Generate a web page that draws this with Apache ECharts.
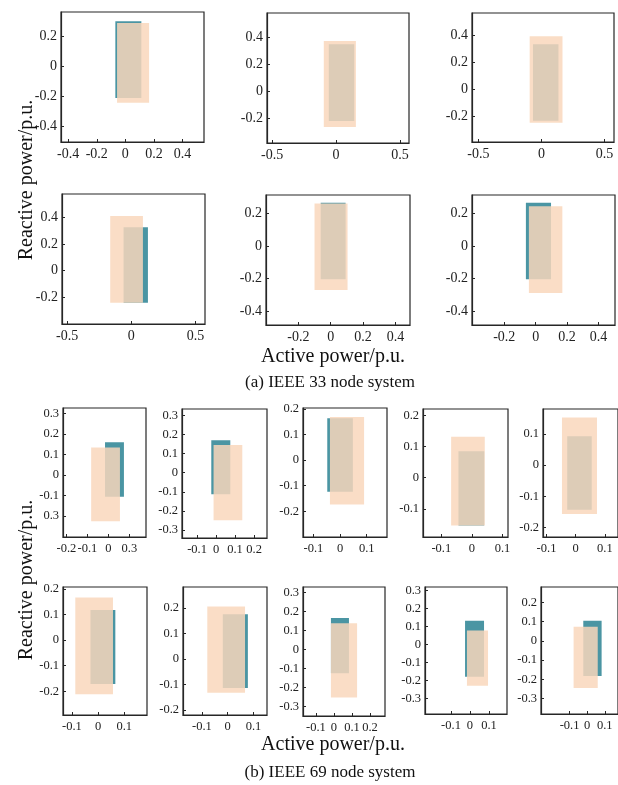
<!DOCTYPE html>
<html>
<head>
<meta charset="utf-8">
<script src="https://cdn.jsdelivr.net/npm/echarts@6/dist/echarts.min.js"></script>
<style>
  html, body { margin: 0; padding: 0; background: #fff; }
  #main { width: 618px; height: 785px; }
</style>
</head>
<body>
<div id="main"></div>
<script>
// each rect: [pMin, pMax, qMin, qMax] in p.u.; (a) 6 panels then (b) 10 panels
const tealRects = [
  [-0.07, 0.112, -0.213, 0.298],
  [-0.057, 0.142, -0.221, 0.345],
  [-0.067, 0.135, -0.231, 0.333],
  [-0.06, 0.13, -0.239, 0.324],
  [-0.062, 0.092, -0.205, 0.266],
  [-0.062, 0.098, -0.205, 0.266],
  [-0.016, 0.074, -0.106, 0.16],
  [-0.025, 0.075, -0.113, 0.17],
  [-0.048, 0.048, -0.124, 0.163],
  [-0.044, 0.04, -0.153, 0.085],
  [-0.029, 0.055, -0.143, 0.093],
  [-0.029, 0.066, -0.171, 0.117],
  [-0.019, 0.078, -0.113, 0.176],
  [-0.017, 0.083, -0.125, 0.166],
  [-0.026, 0.074, -0.178, 0.133],
  [-0.022, 0.082, -0.182, 0.104]
]
const peachRects = [
  [-0.058, 0.166, -0.245, 0.287],
  [-0.096, 0.155, -0.266, 0.369],
  [-0.093, 0.167, -0.245, 0.392],
  [-0.164, 0.091, -0.239, 0.408],
  [-0.1, 0.104, -0.272, 0.26],
  [-0.043, 0.17, -0.29, 0.244],
  [-0.082, 0.055, -0.225, 0.134],
  [-0.013, 0.138, -0.249, 0.144],
  [-0.038, 0.09, -0.173, 0.168],
  [-0.068, 0.042, -0.153, 0.131],
  [-0.047, 0.073, -0.156, 0.153],
  [-0.087, 0.057, -0.211, 0.166],
  [-0.079, 0.067, -0.132, 0.207],
  [-0.017, 0.128, -0.252, 0.139],
  [-0.016, 0.095, -0.228, 0.078],
  [-0.077, 0.06, -0.245, 0.073]
]
const xRanges = [
  [-0.45, 0.55], [-0.54, 0.57], [-0.55, 0.575], [-0.54, 0.575], [-0.4, 0.49], [-0.405, 0.505],
  [-0.216, 0.179], [-0.179, 0.268], [-0.139, 0.176], [-0.16, 0.118], [-0.112, 0.145],
  [-0.134, 0.187], [-0.173, 0.152], [-0.172, 0.283], [-0.237, 0.195], [-0.262, 0.175]
]
const yRanges = [
  [-0.507, 0.36], [-0.384, 0.576], [-0.387, 0.563], [-0.398, 0.572], [-0.487, 0.313], [-0.487, 0.313],
  [-0.302, 0.327], [-0.342, 0.333], [-0.3, 0.203], [-0.19, 0.22], [-0.23, 0.18],
  [-0.292, 0.207], [-0.219, 0.283], [-0.35, 0.33], [-0.385, 0.32], [-0.38, 0.28]
]
const xTickVals = [
  [-0.4, -0.2, 0, 0.2, 0.4], [-0.5, 0, 0.5], [-0.5, 0, 0.5], [-0.5, 0, 0.5], [-0.2, 0, 0.2, 0.4], [-0.2, 0, 0.2, 0.4],
  [-0.2, -0.1, 0, 0.1], [-0.1, 0, 0.1, 0.2], [-0.1, 0, 0.1], [-0.1, 0, 0.1], [-0.1, 0, 0.1],
  [-0.1, 0, 0.1], [-0.1, 0, 0.1], [-0.1, 0, 0.1, 0.2], [-0.2, -0.1, 0, 0.1], [-0.2, -0.1, 0, 0.1]
]
const xTickText = [
  ['-0.4', '-0.2', '0', '0.2', '0.4'], ['-0.5', '0', '0.5'], ['-0.5', '0', '0.5'], ['-0.5', '0', '0.5'],
  ['-0.2', '0', '0.2', '0.4'], ['-0.2', '0', '0.2', '0.4'],
  ['-0.2', '-0.1', '0', '0.3'], ['-0.1', '0', '0.1', '0.2'], ['-0.1', '0', '0.1'], ['-0.1', '0', '0.1'], ['-0.1', '0', '0.1'],
  ['-0.1', '0', '0.1'], ['-0.1', '0', '0.1'], ['-0.1', '0', '0.1', '0.2'], ['-0.2', '-0.1', '0', '0.1'], ['-0.2', '-0.1', '0', '0.1']
]
const yTickVals = [
  [-0.4, -0.2, 0, 0.2], [-0.2, 0, 0.2, 0.4], [-0.2, 0, 0.2, 0.4], [-0.2, 0, 0.2, 0.4], [-0.4, -0.2, 0, 0.2], [-0.4, -0.2, 0, 0.2],
  [-0.2, -0.1, 0, 0.1, 0.2, 0.3], [-0.3, -0.2, -0.1, 0, 0.1, 0.2, 0.3], [-0.2, -0.1, 0, 0.1, 0.2], [-0.1, 0, 0.1, 0.2], [-0.2, -0.1, 0, 0.1],
  [-0.2, -0.1, 0, 0.1, 0.2], [-0.2, -0.1, 0, 0.1, 0.2], [-0.3, -0.2, -0.1, 0, 0.1, 0.2, 0.3],
  [-0.3, -0.2, -0.1, 0, 0.1, 0.2, 0.3], [-0.3, -0.2, -0.1, 0, 0.1, 0.2]
]
const yTickText = [
  ['-0.4', '-0.2', '0', '0.2'], ['-0.2', '0', '0.2', '0.4'], ['-0.2', '0', '0.2', '0.4'], ['-0.2', '0', '0.2', '0.4'],
  ['-0.4', '-0.2', '0', '0.2'], ['-0.4', '-0.2', '0', '0.2'],
  ['0.3', '-0.1', '0', '0.1', '0.2', '0.3'], ['-0.3', '-0.2', '-0.1', '0', '0.1', '0.2', '0.3'],
  ['-0.2', '-0.1', '0', '0.1', '0.2'], ['-0.1', '0', '0.1', '0.2'], ['-0.2', '-0.1', '0', '0.1'],
  ['-0.2', '-0.1', '0', '0.1', '0.2'], ['-0.2', '-0.1', '0', '0.1', '0.2'], ['-0.3', '-0.2', '-0.1', '0', '0.1', '0.2', '0.3'],
  ['-0.3', '-0.2', '-0.1', '0', '0.1', '0.2', '0.3'], ['-0.3', '-0.2', '-0.1', '0', '0.1', '0.2']
]

// panel boxes in px: [left, top, width, height]
const boxes = [
  [61, 12, 143, 130], [267, 13, 142, 130], [472, 13, 142, 129],
  [62, 194, 143, 130], [266, 195, 144, 130], [472, 195, 143, 130],
  [63, 408, 83, 129], [182, 409, 85, 129], [303, 408, 84, 129], [423, 409, 85, 128], [543, 409, 80, 128],
  [63, 587, 84, 128], [183, 587, 84, 128], [303, 587, 82, 129], [425, 587, 82, 127], [541, 587, 80, 127]
]

const FONT = '"Liberation Serif", "Times New Roman", serif'
const INK = '#262626'
const TEAL = '#4a95a3'
const PEACH = '#f9d7bb'

const chart = echarts.init(document.getElementById('main'))

function labelFor(vals, texts) {
  return function (value) {
    for (let i = 0; i < vals.length; i++) {
      if (Math.abs(vals[i] - value) < 1e-9) return texts[i]
    }
    return ''
  }
}

function rectItem(params, api) {
  const p0 = api.coord([api.value(0), api.value(3)])
  const p1 = api.coord([api.value(1), api.value(2)])
  return {
    type: 'rect',
    shape: { x: p0[0], y: p0[1], width: p1[0] - p0[0], height: p1[1] - p0[1] },
    style: api.style()
  }
}

const grids = []
const xAxes = []
const yAxes = []
const series = []

boxes.forEach((b, i) => {
  const small = i >= 6
  const fs = small ? 12.5 : 14
  grids.push({
    left: b[0], top: b[1], width: b[2], height: b[3],
    show: true, borderColor: INK, borderWidth: 1.2, backgroundColor: '#fff'
  })
  xAxes.push({
    gridIndex: i, type: 'value', min: xRanges[i][0], max: xRanges[i][1],
    axisLine: { show: true, onZero: false, lineStyle: { color: INK, width: 1.2 } },
    axisTick: { show: true, inside: true, length: 3, customValues: xTickVals[i], lineStyle: { color: INK } },
    axisLabel: {
      customValues: xTickVals[i], formatter: labelFor(xTickVals[i], xTickText[i]),
      color: '#222', fontFamily: FONT, fontSize: fs, margin: 5
    },
    splitLine: { show: false }
  })
  yAxes.push({
    gridIndex: i, type: 'value', min: yRanges[i][0], max: yRanges[i][1],
    axisLine: { show: true, onZero: false, lineStyle: { color: INK, width: 1.2 } },
    axisTick: { show: true, inside: true, length: 3, customValues: yTickVals[i], lineStyle: { color: INK } },
    axisLabel: {
      customValues: yTickVals[i], formatter: labelFor(yTickVals[i], yTickText[i]),
      color: '#222', fontFamily: FONT, fontSize: fs, margin: 4
    },
    splitLine: { show: false }
  })
  series.push({
    type: 'custom', xAxisIndex: i, yAxisIndex: i, clip: true, silent: true,
    renderItem: rectItem,
    itemStyle: { color: TEAL },
    data: [tealRects[i]]
  })
  series.push({
    type: 'custom', xAxisIndex: i, yAxisIndex: i, clip: true, silent: true,
    renderItem: rectItem,
    itemStyle: { color: PEACH, opacity: 0.84 },
    data: [peachRects[i]]
  })
})

const textStyle = (size) => ({ fontFamily: FONT, fontSize: size, fill: '#111' })

chart.setOption({
  animation: false,
  backgroundColor: '#fff',
  grid: grids,
  xAxis: xAxes,
  yAxis: yAxes,
  series: series,
  graphic: [
    { type: 'text', x: 27, y: 180, rotation: Math.PI / 2,
      style: Object.assign({ text: 'Reactive power/p.u.', align: 'center', verticalAlign: 'middle' }, textStyle(20)) },
    { type: 'text', x: 333, y: 357,
      style: Object.assign({ text: 'Active power/p.u.', align: 'center', verticalAlign: 'middle' }, textStyle(20)) },
    { type: 'text', x: 330, y: 383,
      style: Object.assign({ text: '(a) IEEE 33 node system', align: 'center', verticalAlign: 'middle' }, textStyle(17)) },
    { type: 'text', x: 27, y: 580, rotation: Math.PI / 2,
      style: Object.assign({ text: 'Reactive power/p.u.', align: 'center', verticalAlign: 'middle' }, textStyle(20)) },
    { type: 'text', x: 333, y: 745,
      style: Object.assign({ text: 'Active power/p.u.', align: 'center', verticalAlign: 'middle' }, textStyle(20)) },
    { type: 'text', x: 330, y: 773,
      style: Object.assign({ text: '(b) IEEE 69 node system', align: 'center', verticalAlign: 'middle' }, textStyle(17)) }
  ]
})
</script>
</body>
</html>
